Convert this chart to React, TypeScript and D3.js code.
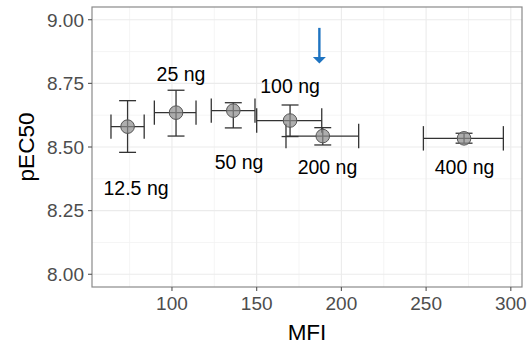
import * as d3 from "d3";

const doses = ["12.5 ng", "25 ng", "50 ng", "100 ng", "200 ng", "400 ng"];
const mfi = [73.8, 102.4, 136.2, 169.7, 189.0, 272.4];
const mfiLow = [64.0, 89.6, 123.2, 150.0, 167.3, 248.4];
const mfiHigh = [83.6, 114.2, 149.0, 188.4, 210.2, 295.6];
const pec50 = [8.58, 8.635, 8.643, 8.604, 8.543, 8.534];
const pecLow = [8.479, 8.543, 8.575, 8.541, 8.508, 8.515];
const pecHigh = [8.682, 8.723, 8.674, 8.665, 8.576, 8.554];
const labelX = [78.8, 105.3, 139.6, 169.7, 191.8, 272.7];
const labelY = [8.339, 8.787, 8.441, 8.74, 8.421, 8.421];
const arrowX = 187;
const arrowFrom = 8.968;
const arrowTo = 8.828;

const xTicks = [100, 150, 200, 250, 300];
const xMinor = [75, 125, 175, 225, 275];
const yTicks = [8.0, 8.25, 8.5, 8.75, 9.0];
const yMinor = [8.125, 8.375, 8.625, 8.875];

const W = 532;
const H = 350;
const margin = { top: 7, right: 10, bottom: 63, left: 92 };

export default function App() {
  const x = d3
    .scaleLinear()
    .domain([52.8, 306.6])
    .range([margin.left, W - margin.right]);
  const y = d3
    .scaleLinear()
    .domain([7.95, 9.05])
    .range([H - margin.bottom, margin.top]);

  const capW = 5; // half-width of vertical bar caps, MFI units
  const capH = 0.048; // half-height of horizontal bar caps, pEC50 units
  const font = "'Liberation Sans', Arial, sans-serif";
  const bar = "#333";
  const blue = "#1f74c1";

  const x0 = margin.left;
  const x1 = W - margin.right;
  const y0 = margin.top;
  const y1 = H - margin.bottom;

  const ax = x(arrowX);
  const tipY = y(arrowTo);

  return (
    <svg
      width={W}
      height={H}
      style={{ position: "absolute", left: 0, top: 0, background: "#fff" }}
      fontFamily={font}
    >
      {/* grid */}
      {xMinor.map((v) => (
        <line key={"xm" + v} x1={x(v)} x2={x(v)} y1={y0} y2={y1} stroke="#f2f2f2" strokeWidth={0.8} />
      ))}
      {yMinor.map((v) => (
        <line key={"ym" + v} x1={x0} x2={x1} y1={y(v)} y2={y(v)} stroke="#f2f2f2" strokeWidth={0.8} />
      ))}
      {xTicks.map((v) => (
        <line key={"xg" + v} x1={x(v)} x2={x(v)} y1={y0} y2={y1} stroke="#ebebeb" strokeWidth={1.1} />
      ))}
      {yTicks.map((v) => (
        <line key={"yg" + v} x1={x0} x2={x1} y1={y(v)} y2={y(v)} stroke="#ebebeb" strokeWidth={1.1} />
      ))}

      {/* error bars */}
      {mfi.map((m, i) => (
        <g key={"eb" + i} stroke={bar} strokeWidth={1.3} fill="none">
          <line x1={x(m)} x2={x(m)} y1={y(pecLow[i])} y2={y(pecHigh[i])} />
          <line x1={x(m - capW)} x2={x(m + capW)} y1={y(pecLow[i])} y2={y(pecLow[i])} />
          <line x1={x(m - capW)} x2={x(m + capW)} y1={y(pecHigh[i])} y2={y(pecHigh[i])} />
          <line x1={x(mfiLow[i])} x2={x(mfiHigh[i])} y1={y(pec50[i])} y2={y(pec50[i])} />
          <line x1={x(mfiLow[i])} x2={x(mfiLow[i])} y1={y(pec50[i] - capH)} y2={y(pec50[i] + capH)} />
          <line x1={x(mfiHigh[i])} x2={x(mfiHigh[i])} y1={y(pec50[i] - capH)} y2={y(pec50[i] + capH)} />
        </g>
      ))}

      {/* points */}
      {mfi.map((m, i) => (
        <circle
          key={"pt" + i}
          cx={x(m)}
          cy={y(pec50[i])}
          r={6.8}
          fill="#8c8c8c"
          fillOpacity={0.7}
          stroke="#555"
          strokeWidth={1}
        />
      ))}

      {/* labels */}
      {doses.map((d, i) => (
        <text
          key={"lb" + i}
          x={x(labelX[i])}
          y={y(labelY[i])}
          dy="0.35em"
          textAnchor="middle"
          fontSize={19.5}
          fill="#000"
        >
          {d}
        </text>
      ))}

      {/* arrow */}
      <line x1={ax} x2={ax} y1={y(arrowFrom)} y2={tipY - 5} stroke={blue} strokeWidth={2.4} />
      <path d={`M${ax - 6.5},${tipY - 6.5} L${ax + 6.5},${tipY - 6.5} L${ax},${tipY} Z`} fill={blue} />

      {/* panel border */}
      <rect x={x0} y={y0} width={x1 - x0} height={y1 - y0} fill="none" stroke="#8a8a8a" strokeWidth={1.2} />

      {/* axes */}
      {xTicks.map((v) => (
        <g key={"xt" + v}>
          <line x1={x(v)} x2={x(v)} y1={y1} y2={y1 + 4} stroke="#555" strokeWidth={1.1} />
          <text x={x(v)} y={y1 + 23} textAnchor="middle" fontSize={19} fill="#4d4d4d">
            {v}
          </text>
        </g>
      ))}
      {yTicks.map((v) => (
        <g key={"yt" + v}>
          <line x1={x0 - 4} x2={x0} y1={y(v)} y2={y(v)} stroke="#555" strokeWidth={1.1} />
          <text x={x0 - 8} y={y(v)} dy="0.36em" textAnchor="end" fontSize={19} fill="#4d4d4d">
            {d3.format(".2f")(v)}
          </text>
        </g>
      ))}
      <text x={(x0 + x1) / 2} y={340} textAnchor="middle" fontSize={22.5} fill="#000">
        MFI
      </text>
      <text
        transform={`translate(34,${(y0 + y1) / 2}) rotate(-90)`}
        textAnchor="middle"
        fontSize={22.5}
        fill="#000"
      >
        pEC50
      </text>
    </svg>
  );
}
